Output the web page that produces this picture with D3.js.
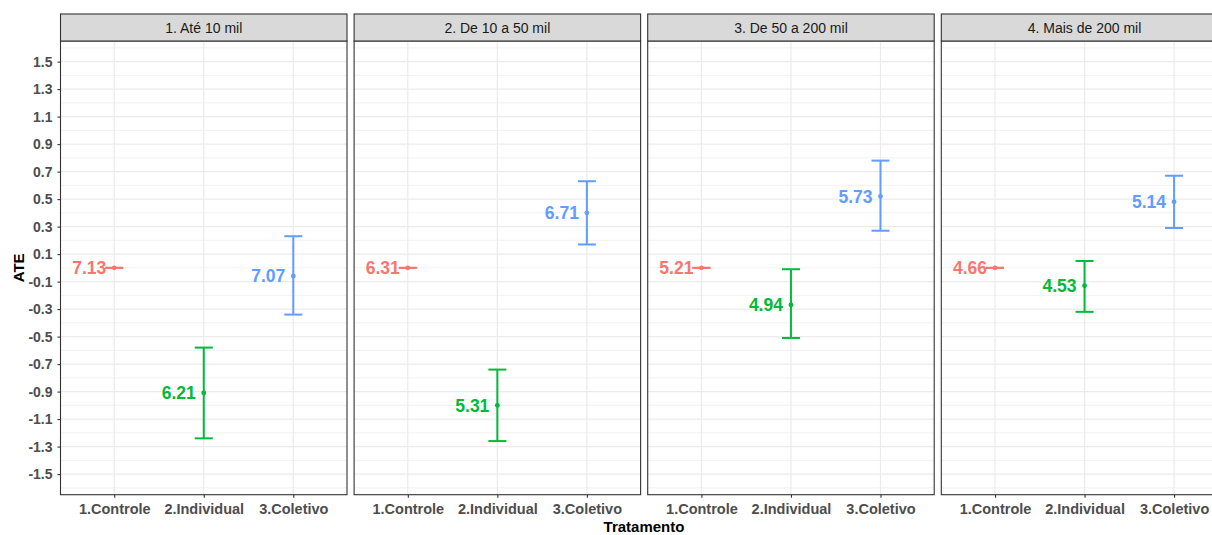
<!DOCTYPE html>
<html>
<head>
<meta charset="utf-8">
<script src="https://cdn.jsdelivr.net/npm/d3@7"></script>
<style>
  html, body { margin: 0; padding: 0; background: #fff; }
  svg { display: block; font-family: "Liberation Sans", Arial, sans-serif; }
</style>
</head>
<body>
<svg id="chart" width="1212" height="535"></svg>
<script>
// Facets (municipality size), treatment groups and per-group estimates
const facets = ["1. Até 10 mil", "2. De 10 a 50 mil", "3. De 50 a 200 mil", "4. Mais de 200 mil"];
const treatments = ["1.Controle", "2.Individual", "3.Coletivo"];
const groupMeans = [
  [7.13, 6.21, 7.07],
  [6.31, 5.31, 6.71],
  [5.21, 4.94, 5.73],
  [4.66, 4.53, 5.14]
];
const ateValues = [
  [0, -0.91, -0.06],
  [0, -1.00, 0.40],
  [0, -0.27, 0.52],
  [0, -0.13, 0.48]
];
const ciLower = [
  [0, -1.24, -0.34],
  [0, -1.26, 0.17],
  [0, -0.51, 0.27],
  [0, -0.32, 0.29]
];
const ciUpper = [
  [0, -0.58, 0.23],
  [0, -0.74, 0.63],
  [0, -0.01, 0.78],
  [0, 0.05, 0.67]
];
const yTicks = [1.5, 1.3, 1.1, 0.9, 0.7, 0.5, 0.3, 0.1, -0.1, -0.3, -0.5, -0.7, -0.9, -1.1, -1.3, -1.5];
const yMinor = [1.6, 1.4, 1.2, 1.0, 0.8, 0.6, 0.4, 0.2, 0.0, -0.2, -0.4, -0.6, -0.8, -1.0, -1.2, -1.4, -1.6];
const colors = ["#F8766D", "#00BA38", "#619CFF"];

// Layout
const plotLeft = 60.5;
const panelW = 286.5;
const panelStep = 293.6;
const stripTop = 14;
const stripH = 27;
const panelTop = stripTop + stripH;
const panelBottom = 494.7;

const svg = d3.select("#chart");

const y = d3.scaleLinear().domain([-1.65, 1.65]).range([panelBottom, panelTop]);

facets.forEach((facet, fi) => {
  const x0 = plotLeft + fi * panelStep;
  const x = d3.scalePoint().domain(treatments).range([x0, x0 + panelW]).padding(0.6);
  const g = svg.append("g");

  // panel background
  g.append("rect").attr("x", x0).attr("y", panelTop).attr("width", panelW)
    .attr("height", panelBottom - panelTop).attr("fill", "#fff");

  // minor gridlines
  g.selectAll(".minor").data(yMinor).enter().append("line")
    .attr("x1", x0).attr("x2", x0 + panelW)
    .attr("y1", d => y(d)).attr("y2", d => y(d))
    .attr("stroke", "#EBEBEB").attr("stroke-width", 0.7);
  // major gridlines
  g.selectAll(".major").data(yTicks).enter().append("line")
    .attr("x1", x0).attr("x2", x0 + panelW)
    .attr("y1", d => y(d)).attr("y2", d => y(d))
    .attr("stroke", "#EBEBEB").attr("stroke-width", 1.2);
  g.selectAll(".vgrid").data(treatments).enter().append("line")
    .attr("x1", d => x(d)).attr("x2", d => x(d))
    .attr("y1", panelTop).attr("y2", panelBottom)
    .attr("stroke", "#EBEBEB").attr("stroke-width", 1.2);

  // error bars, points and labels
  const rows = treatments.map((t, i) => ({
    t, color: colors[i], mean: groupMeans[fi][i], ate: ateValues[fi][i],
    lo: ciLower[fi][i], hi: ciUpper[fi][i]
  }));
  const capHalf = 9;
  const eb = g.selectAll(".eb").data(rows).enter().append("g")
    .attr("stroke", d => d.color).attr("stroke-width", 2).attr("fill", "none");
  eb.append("line").attr("x1", d => x(d.t)).attr("x2", d => x(d.t))
    .attr("y1", d => y(d.lo)).attr("y2", d => y(d.hi));
  eb.append("line").attr("x1", d => x(d.t) - capHalf).attr("x2", d => x(d.t) + capHalf)
    .attr("y1", d => y(d.lo)).attr("y2", d => y(d.lo));
  eb.append("line").attr("x1", d => x(d.t) - capHalf).attr("x2", d => x(d.t) + capHalf)
    .attr("y1", d => y(d.hi)).attr("y2", d => y(d.hi));

  g.selectAll(".pt").data(rows).enter().append("circle")
    .attr("cx", d => x(d.t)).attr("cy", d => y(d.ate)).attr("r", 2.4)
    .attr("fill", d => d.color);

  g.selectAll(".lbl").data(rows).enter().append("text")
    .attr("x", d => x(d.t) - 8).attr("y", d => y(d.ate))
    .attr("dy", "0.36em").attr("text-anchor", "end")
    .attr("font-size", 17.5).attr("font-weight", "bold")
    .attr("fill", d => d.color).text(d => d.mean.toFixed(2));

  // panel border
  g.append("rect").attr("x", x0).attr("y", panelTop).attr("width", panelW)
    .attr("height", panelBottom - panelTop).attr("fill", "none")
    .attr("stroke", "#333333").attr("stroke-width", 1.1);

  // strip
  g.append("rect").attr("x", x0).attr("y", stripTop).attr("width", panelW)
    .attr("height", stripH).attr("fill", "#D9D9D9")
    .attr("stroke", "#333333").attr("stroke-width", 1.1);
  g.append("text").attr("x", x0 + panelW / 2).attr("y", stripTop + stripH / 2)
    .attr("dy", "0.36em").attr("text-anchor", "middle")
    .attr("font-size", 14).attr("fill", "#1A1A1A").text(facet);

  // x axis
  const xAxis = g.append("g").attr("transform", `translate(0,${panelBottom})`)
    .call(d3.axisBottom(x).tickSize(3).tickPadding(6));
  xAxis.select(".domain").remove();
  xAxis.selectAll(".tick line").attr("stroke", "#333333").attr("stroke-width", 1.1);
  xAxis.selectAll(".tick text").attr("fill", "#4D4D4D").attr("font-size", 14.5)
    .attr("font-weight", "bold").attr("font-family", "Liberation Sans, Arial, sans-serif");

  // y axis on the first panel only
  if (fi === 0) {
    const yAxis = g.append("g").attr("transform", `translate(${x0},0)`)
      .call(d3.axisLeft(y).tickValues(yTicks).tickSize(3).tickPadding(5)
        .tickFormat(d => d3.format(".1f")(d).replace("−", "-")));
    yAxis.select(".domain").remove();
    yAxis.selectAll(".tick line").attr("stroke", "#333333").attr("stroke-width", 1.1);
    yAxis.selectAll(".tick text").attr("fill", "#4D4D4D").attr("font-size", 14)
      .attr("font-weight", "bold").attr("font-family", "Liberation Sans, Arial, sans-serif");
  }
});

// axis titles
svg.append("text").attr("transform", `translate(19,${(panelTop + panelBottom) / 2}) rotate(-90)`)
  .attr("text-anchor", "middle").attr("dy", "0.36em")
  .attr("font-size", 15).attr("font-weight", "bold").attr("fill", "#000").text("ATE");
svg.append("text").attr("x", 644).attr("y", 526.3).attr("dy", "0.36em")
  .attr("text-anchor", "middle").attr("font-size", 15).attr("font-weight", "bold")
  .attr("fill", "#000").text("Tratamento");
</script>
</body>
</html>
